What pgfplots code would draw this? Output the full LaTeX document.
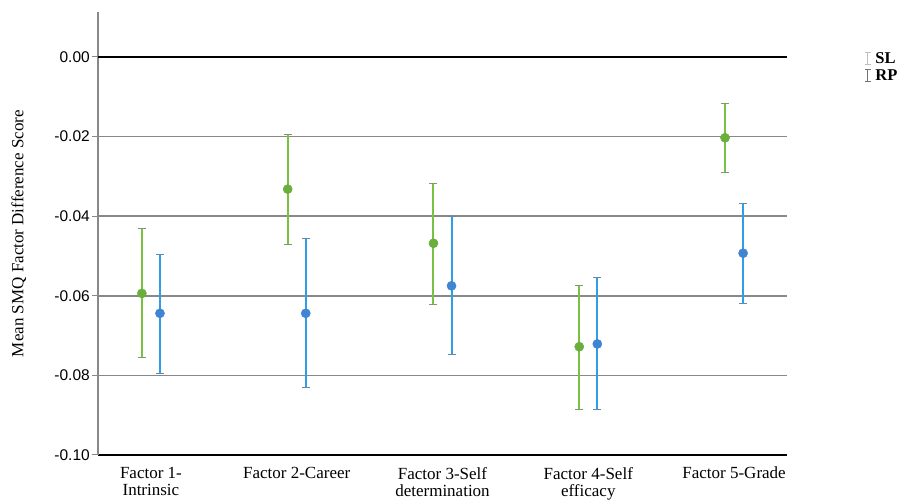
\documentclass[border=0pt]{standalone}
\usepackage{fontspec}
\setmainfont{Liberation Serif}
\newfontfamily\tickfont{Liberation Sans}
\usepackage{pgfplots}
\usepackage{pgfplotstable}
\pgfplotsset{compat=1.18}
\definecolor{gline}{HTML}{7AC143}
\definecolor{gmark}{HTML}{6AAE3C}
\definecolor{bline}{HTML}{2E9EE6}
\definecolor{bmark}{HTML}{4084D4}
\definecolor{gridc}{HTML}{888888}

\pgfplotstableread{
x y hi lo
0 -0.0594 -0.0432 -0.0755
1 -0.0332 -0.0196 -0.0472
2 -0.0468 -0.0317 -0.0623
3 -0.0728 -0.0575 -0.0885
4 -0.0203 -0.0118 -0.0291
}\greendata
\pgfplotstableread{
x y hi lo
0 -0.0644 -0.0496 -0.0795
1 -0.0644 -0.0457 -0.0830
2 -0.0575 -0.0400 -0.0747
3 -0.0721 -0.0554 -0.0885
4 -0.0493 -0.0368 -0.0619
}\bluedata

\begin{document}
\begin{tikzpicture}
\path[use as bounding box] (0pt,0pt) rectangle (907pt,500pt);
\begin{axis}[
  at={(98pt,45pt)}, anchor=south west,
  scale only axis, width=689pt, height=443pt,
  xmin=-0.363, xmax=4.363, ymin=-0.1, ymax=0.0113,
  axis x line*=bottom, axis y line*=left,
  x axis line style={black, line width=1.5pt, -},
  y axis line style={gridc, line width=1.2pt, -},
  xtick={0,1,2,3,4},
  xticklabels={{Factor 1-\\Intrinsic},{Factor 2-Career},{Factor 3-Self\\determination},{Factor 4-Self\\efficacy},{Factor 5-Grade}},
  xticklabel style={align=center, font=\fontsize{17}{17}\selectfont, inner sep=2pt, yshift=-4pt},
  xtick style={draw=none},
  ytick={-0.1,-0.08,-0.06,-0.04,-0.02},
  extra y ticks={0},
  extra y tick style={grid style={black, line width=1.8pt}},
  yticklabel style={font=\tickfont\fontsize{15.5}{15.5}\selectfont, inner xsep=2pt, /pgf/number format/.cd, fixed, fixed zerofill, precision=2, assume math mode=true},
  ymajorgrids,
  grid style={gridc, line width=1.6pt},
  tick align=outside, major tick length=6pt,
  ytick style={gridc, line width=1pt},
  ylabel={Mean SMQ Factor Difference Score},
  every axis y label/.style={at={(axis description cs:-0.115,0.5)}, anchor=center, rotate=90, font=\fontsize{17}{17}\selectfont},
  clip=false,
  legend style={at={(axis description cs:1.112,0.912)}, anchor=north west, draw=none, fill=none,
    font=\fontsize{16.5}{16.5}\selectfont, inner sep=0pt, row sep=3pt, nodes={inner xsep=4pt, inner ysep=1pt}},
  legend cell align=left,
  legend image code/.code={
    \draw[#1, line width=1pt] (0pt,-6pt)--(0pt,6pt);
    \draw[#1, line width=1pt] (-3pt,6pt)--(3pt,6pt);
    \draw[#1, line width=1pt] (-3pt,-6pt)--(3pt,-6pt);
  },
]
\addplot[forget plot, only marks, mark=*, mark size=4.6pt, mark options={gmark, fill=gmark},
  error bars/.cd, y dir=both, y explicit,
  error bar style={gline, line width=2pt},
  error mark options={rotate=90, gray!60!gline, line width=1pt, mark size=4pt}]
  table[x expr=\thisrow{x}-0.062, y=y,
        y error plus expr=\thisrow{hi}-\thisrow{y},
        y error minus expr=\thisrow{y}-\thisrow{lo}] {\greendata};
\addplot[forget plot, only marks, mark=*, mark size=4.6pt, mark options={bmark, fill=bmark},
  error bars/.cd, y dir=both, y explicit,
  error bar style={bline, line width=2pt},
  error mark options={rotate=90, gray!60!bline, line width=1pt, mark size=4pt}]
  table[x expr=\thisrow{x}+0.062, y=y,
        y error plus expr=\thisrow{hi}-\thisrow{y},
        y error minus expr=\thisrow{y}-\thisrow{lo}] {\bluedata};
\addlegendimage{color=black!25}
\addlegendentry{\textbf{SL}}
\addlegendimage{color=black!55}
\addlegendentry{\textbf{RP}}
\end{axis}
\end{tikzpicture}
\end{document}
